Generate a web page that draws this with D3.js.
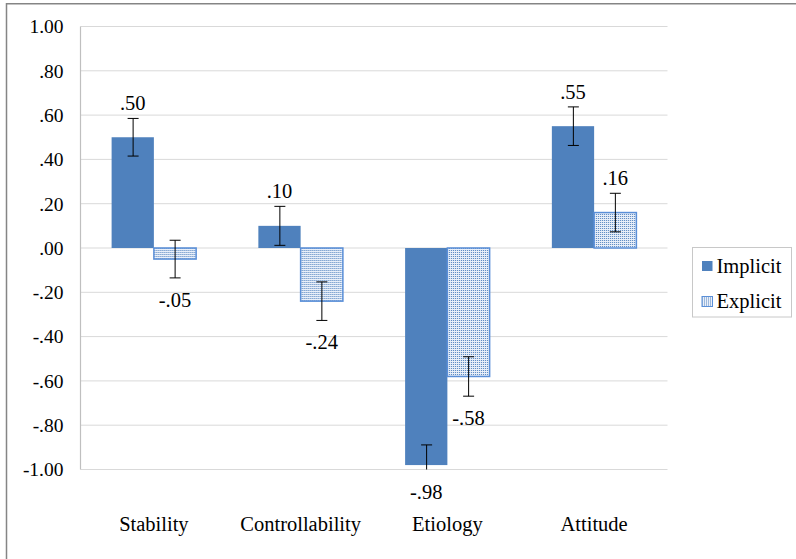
<!DOCTYPE html>
<html>
<head>
<meta charset="utf-8">
<script src="https://cdn.jsdelivr.net/npm/d3@7"></script>
<style>
  html, body { margin: 0; padding: 0; background: #fff; }
  svg { display: block; }
</style>
</head>
<body>
<svg id="chart" width="796" height="559"></svg>
<script>
// Attribution dimensions
const categories = ["Stability", "Controllability", "Etiology", "Attitude"];
const seriesNames = ["Implicit", "Explicit"];
const implicitValues = [0.50, 0.10, -0.98, 0.55];
const explicitValues = [-0.05, -0.24, -0.58, 0.16];
// Standard errors shown as error bars
const implicitErrors = [0.085, 0.088, 0.091, 0.087];
const explicitErrors = [0.085, 0.087, 0.089, 0.087];
const yTicks = [1.0, 0.8, 0.6, 0.4, 0.2, 0.0, -0.2, -0.4, -0.6, -0.8, -1.0];

const rows = categories.map((c, i) => ({
  category: c,
  bars: [
    { series: "Implicit", value: implicitValues[i], err: implicitErrors[i] },
    { series: "Explicit", value: explicitValues[i], err: explicitErrors[i] }
  ]
}));

const FONT = '"Liberation Serif"';
const svg = d3.select("#chart");
const plot = { left: 80.5, right: 667.5, top: 26.5, bottom: 469.5 };

const x0 = d3.scaleBand().domain(categories)
  .range([plot.left, plot.right]).paddingInner(0.424).paddingOuter(0.212);
const x1 = d3.scaleBand().domain(seriesNames).range([0, x0.bandwidth()]).padding(0);
const y = d3.scaleLinear().domain([-1, 1]).range([plot.bottom, plot.top]);

// ".80", "-.20", "1.00" style numbers with an ASCII hyphen
const fmt = v => d3.format(".2f")(v).replace("\u2212", "-").replace(/^(-?)0\./, "$1.");

// Dotted fill for the Explicit series
const defs = svg.append("defs");
const pat = defs.append("pattern").attr("id", "dots")
  .attr("patternUnits", "userSpaceOnUse").attr("width", 2).attr("height", 2);
pat.append("rect").attr("width", 2).attr("height", 2).attr("fill", "#e9eff9");
pat.append("rect").attr("width", 1).attr("height", 1).attr("fill", "#4f81bd");

const fills = { Implicit: "#4f81bd", Explicit: "url(#dots)" };
const strokes = { Implicit: "none", Explicit: "#5a8fd8" };

// Outer frame (top and left edges are visible)
svg.append("rect").attr("x", 6.5).attr("y", 3.75).attr("width", 900).attr("height", 700)
  .attr("fill", "none").attr("stroke", "#858585").attr("stroke-width", 1.5);

// Horizontal gridlines
svg.append("g").selectAll("line").data(yTicks).join("line")
  .attr("x1", plot.left).attr("x2", plot.right)
  .attr("y1", d => y(d)).attr("y2", d => y(d))
  .attr("stroke", "#d9d9d9").attr("stroke-width", 1);

// Y axis line
svg.append("line").attr("x1", plot.left).attr("x2", plot.left)
  .attr("y1", plot.top).attr("y2", plot.bottom)
  .attr("stroke", "#bfbfbf").attr("stroke-width", 1.2);

// Y tick labels
svg.append("g").selectAll("text").data(yTicks).join("text")
  .attr("x", 63.5).attr("y", d => y(d)).attr("dy", "0.35em")
  .attr("text-anchor", "end")
  .style("font-family", FONT).style("font-size", "19.5px")
  .text(fmt);

// Bars
const groups = svg.append("g").selectAll("g").data(rows).join("g")
  .attr("transform", d => `translate(${x0(d.category)},0)`);

groups.selectAll("rect").data(d => d.bars).join("rect")
  .attr("x", d => x1(d.series))
  .attr("width", x1.bandwidth())
  .attr("y", d => y(Math.max(0, d.value)))
  .attr("height", d => Math.abs(y(d.value) - y(0)))
  .attr("fill", d => fills[d.series])
  .attr("stroke", d => strokes[d.series])
  .attr("stroke-width", 1.5);

// Error bars, clipped to the plotting range
const capHalf = 5.5;
const errG = groups.selectAll("g.err").data(d => d.bars).join("g").attr("class", "err");
errG.each(function (d) {
  const g = d3.select(this);
  const cx = Math.round(x1(d.series) + x1.bandwidth() / 2) + 0.5;
  const hi = d.value + d.err, lo = d.value - d.err;
  const yHi = y(Math.min(hi, 1)), yLo = y(Math.max(lo, -1));
  g.append("line").attr("x1", cx).attr("x2", cx).attr("y1", yHi).attr("y2", yLo)
    .attr("stroke", "#000").attr("stroke-width", 1);
  if (hi <= 1) g.append("line").attr("x1", cx - capHalf).attr("x2", cx + capHalf)
    .attr("y1", yHi).attr("y2", yHi).attr("stroke", "#000").attr("stroke-width", 1);
  if (lo >= -1) g.append("line").attr("x1", cx - capHalf).attr("x2", cx + capHalf)
    .attr("y1", yLo).attr("y2", yLo).attr("stroke", "#000").attr("stroke-width", 1);
});

// Value labels beyond the error bar ends
groups.selectAll("text.val").data(d => d.bars).join("text").attr("class", "val")
  .attr("x", d => x1(d.series) + x1.bandwidth() / 2)
  .attr("y", d => d.value >= 0
    ? y(d.value + d.err) - 8
    : y(Math.max(d.value - d.err, -1)) + 29)
  .attr("text-anchor", "middle")
  .style("font-family", FONT).style("font-size", "20.5px")
  .text(d => fmt(d.value));

// Category labels
svg.append("g").selectAll("text").data(categories).join("text")
  .attr("x", d => x0(d) + x0.bandwidth() / 2).attr("y", 530.5)
  .attr("text-anchor", "middle")
  .style("font-family", FONT).style("font-size", "20.5px")
  .text(d => d);

// Legend
const legend = svg.append("g");
legend.append("rect").attr("x", 692.5).attr("y", 247.5).attr("width", 99).attr("height", 69.5)
  .attr("fill", "#fff").attr("stroke", "#c8c8c8").attr("stroke-width", 1);
const items = legend.selectAll("g").data(seriesNames).join("g")
  .attr("transform", (d, i) => `translate(0,${i * 35.5})`);
items.append("rect").attr("x", 702).attr("y", 261).attr("width", 10.5).attr("height", 10)
  .attr("fill", d => fills[d]).attr("stroke", d => strokes[d]).attr("stroke-width", 1);
items.append("text").attr("x", 716.5).attr("y", 272.5)
  .style("font-family", FONT).style("font-size", "20.5px")
  .text(d => d);
</script>
</body>
</html>
